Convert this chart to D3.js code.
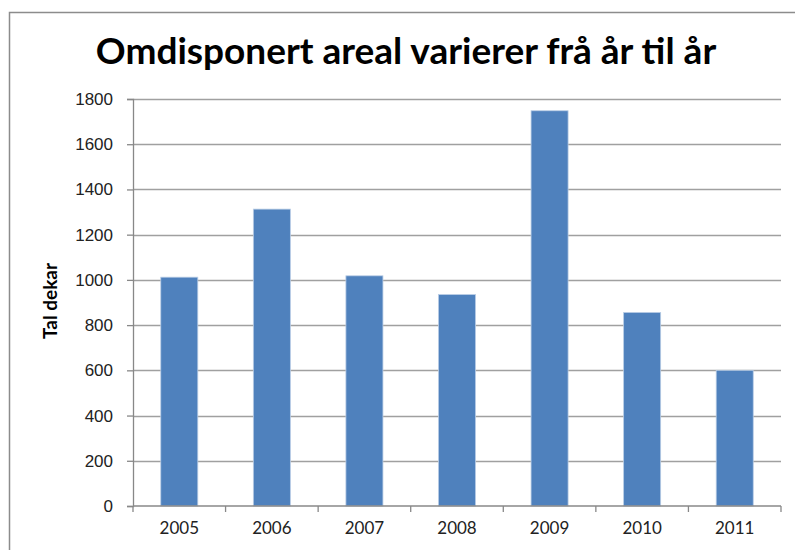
<!DOCTYPE html>
<html>
<head>
<meta charset="utf-8">
<script src="https://cdnjs.cloudflare.com/ajax/libs/d3/7.8.5/d3.min.js"></script>
<style>
  body { margin: 0; background: #fff; }
  svg { display: block; font-family: Lato, "Open Sans", sans-serif; }
  .tick text { font-size: 17px; fill: #222; }
</style>
</head>
<body>
<div id="chart"></div>
<script>
// data
var years = ['2005', '2006', '2007', '2008', '2009', '2010', '2011'];
var dekar = [1012, 1313, 1018, 935, 1748, 856, 600];
var yTicks = [0, 200, 400, 600, 800, 1000, 1200, 1400, 1600, 1800];

var width = 795, height = 550;
var margin = { top: 99, right: 14, bottom: 44, left: 133 };

var svg = d3.select('#chart').append('svg')
  .attr('width', width)
  .attr('height', height);

// outer frame of the chart object
svg.append('rect')
  .attr('x', 9.5).attr('y', 12.5)
  .attr('width', width).attr('height', height)
  .attr('fill', 'none').attr('stroke', '#8c8c8c').attr('stroke-width', 1.5);

svg.append('text')
  .attr('x', 406).attr('y', 64)
  .attr('text-anchor', 'middle')
  .style('font-size', '37px').style('font-weight', 'bold')
  .text('Omdisponert areal varierer frå år til år');

var x = d3.scaleBand()
  .domain(years)
  .range([margin.left, width - margin.right])
  .paddingInner(0.6).paddingOuter(0.3);

var y = d3.scaleLinear()
  .domain([0, 1800])
  .range([height - margin.bottom, margin.top]);

// grid lines
svg.append('g')
  .selectAll('line')
  .data(yTicks.slice(1))
  .join('line')
  .attr('x1', margin.left).attr('x2', width - margin.right)
  .attr('y1', function(d) { return Math.round(y(d)) + 0.5; })
  .attr('y2', function(d) { return Math.round(y(d)) + 0.5; })
  .attr('stroke', '#a0a0a0').attr('stroke-width', 1.5);

// bars
svg.append('g')
  .selectAll('rect')
  .data(dekar)
  .join('rect')
  .attr('x', function(d, i) { return x(years[i]); })
  .attr('y', function(d) { return y(d); })
  .attr('width', x.bandwidth())
  .attr('height', function(d) { return y(0) - y(d); })
  .attr('fill', '#4f81bd')
  .attr('stroke', '#b9cde5').attr('stroke-width', 0.8);

// y axis
var yAxis = svg.append('g')
  .attr('transform', 'translate(' + margin.left + ',0)')
  .call(d3.axisLeft(y).tickValues(yTicks).tickSize(6).tickPadding(14).tickFormat(d3.format('d')));
yAxis.selectAll('line, path').attr('stroke', '#888').attr('stroke-width', 1.3);

// x axis: ticks sit on the category boundaries
var xAxis = svg.append('g')
  .attr('transform', 'translate(0,' + y(0) + ')');
xAxis.append('line')
  .attr('x1', margin.left).attr('x2', width - margin.right)
  .attr('stroke', '#888').attr('stroke-width', 1.3);
var step = (width - margin.right - margin.left) / years.length;
xAxis.selectAll('.xtick')
  .data(d3.range(years.length + 1))
  .join('line')
  .attr('class', 'xtick')
  .attr('x1', function(i) { return margin.left + i * step; })
  .attr('x2', function(i) { return margin.left + i * step; })
  .attr('y1', 0).attr('y2', 6)
  .attr('stroke', '#888').attr('stroke-width', 1.3);
xAxis.selectAll('.xlabel')
  .data(years)
  .join('text')
  .attr('class', 'xlabel')
  .attr('x', function(d) { return x(d) + x.bandwidth() / 2; })
  .attr('y', 28)
  .attr('text-anchor', 'middle')
  .style('font-size', '17px').style('fill', '#222')
  .text(function(d) { return d; });

// axis title
svg.append('text')
  .attr('transform', 'translate(57,301) rotate(-90)')
  .attr('text-anchor', 'middle')
  .style('font-size', '19px').style('font-weight', 'bold')
  .text('Tal dekar');
</script>
</body>
</html>
